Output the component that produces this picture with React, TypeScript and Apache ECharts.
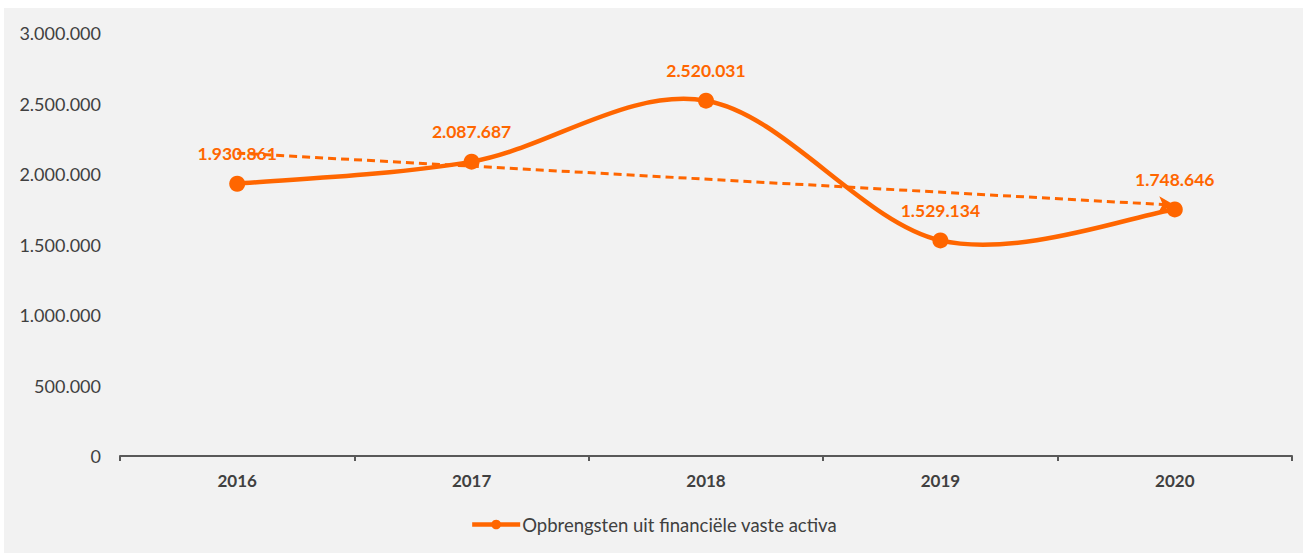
import React, { useEffect, useRef } from "react";
import * as echarts from "echarts";

const categories = ["2016", "2017", "2018", "2019", "2020"];
const values = [1930861, 2087687, 2520031, 1529134, 1748646];
const seriesName = "Opbrengsten uit financiële vaste activa";
const yMin = 0;
const yMax = 3000000;
const yInterval = 500000;

const ORANGE = "#ff6600";
const TEXT = "#404040";
const FONT = "Lato, 'Open Sans', sans-serif";

function fmt(v: number): string {
  return String(Math.round(v)).replace(/\B(?=(\d{3})+(?!\d))/g, ".");
}

function trend(vals: number[]): [number, number] {
  const n = vals.length;
  const mx = (n - 1) / 2;
  const my = vals.reduce((a, b) => a + b, 0) / n;
  let num = 0;
  let den = 0;
  vals.forEach((v, i) => {
    num += (i - mx) * (v - my);
    den += (i - mx) * (i - mx);
  });
  const slope = num / den;
  return [my - slope * mx, my + slope * (n - 1 - mx)];
}

export default function App() {
  const ref = useRef<HTMLDivElement>(null);
  useEffect(() => {
    if (!ref.current) return;
    const chart = echarts.init(ref.current, null, { renderer: "svg" });
    const [t0, t1] = trend(values);
    const n = values.length;
    chart.setOption({
      animation: false,
      backgroundColor: "#f2f2f2",
      textStyle: { fontFamily: FONT },
      grid: { left: 116, right: 11, top: 25, bottom: 97 },
      legend: {
        bottom: 14,
        left: "center",
        data: [seriesName],
        itemWidth: 48,
        itemHeight: 12,
        itemGap: 0,
        lineStyle: { color: ORANGE, width: 4.5, opacity: 1 },
        textStyle: { color: TEXT, fontSize: 18.5, fontFamily: FONT, padding: [0, 0, 0, -3] },
      },
      xAxis: {
        type: "category",
        data: categories,
        boundaryGap: true,
        axisLine: { show: true, lineStyle: { color: "#595959", width: 2 } },
        axisTick: { show: true, alignWithLabel: false, length: 5, lineStyle: { color: "#595959", width: 2 } },
        axisLabel: { color: TEXT, fontSize: 17, fontWeight: "bold", margin: 16, fontFamily: FONT },
        splitLine: { show: false },
      },
      yAxis: {
        type: "value",
        min: yMin,
        max: yMax,
        interval: yInterval,
        axisLine: { show: false },
        axisTick: { show: false },
        splitLine: { show: false },
        axisLabel: {
          color: TEXT,
          fontSize: 18,
          margin: 19,
          fontFamily: FONT,
          formatter: (v: number) => fmt(v),
        },
      },
      series: [
        {
          name: "curve",
          type: "custom",
          data: values.map((v, i) => [i, v]),
          silent: true,
          z: 2,
          renderItem: (params: any, api: any) => {
            const i = params.dataIndex;
            if (i >= n - 1) return { type: "group", children: [] };
            const p = (k: number) => {
              const kk = Math.max(0, Math.min(n - 1, k));
              return api.coord([kk, values[kk]]);
            };
            const p0 = p(i - 1);
            const p1 = p(i);
            const p2 = p(i + 1);
            const p3 = p(i + 2);
            const c1 = [p1[0] + (p2[0] - p0[0]) / 6, p1[1] + (p2[1] - p0[1]) / 6];
            const c2 = [p2[0] - (p3[0] - p1[0]) / 6, p2[1] - (p3[1] - p1[1]) / 6];
            return {
              type: "bezierCurve",
              shape: {
                x1: p1[0],
                y1: p1[1],
                x2: p2[0],
                y2: p2[1],
                cpx1: c1[0],
                cpy1: c1[1],
                cpx2: c2[0],
                cpy2: c2[1],
              },
              style: { stroke: ORANGE, lineWidth: 4.5, fill: "none", lineCap: "round" },
            };
          },
          markLine: {
            silent: true,
            symbol: ["none", "arrow"],
            symbolSize: [12, 16],
            label: { show: false },
            lineStyle: { color: ORANGE, type: [8, 5], width: 3 },
            data: [[{ coord: [0, t0] }, { coord: [4, t1] }]],
          },
        },
        {
          name: seriesName,
          type: "line",
          data: values,
          symbol: "circle",
          symbolSize: 16,
          itemStyle: { color: ORANGE },
          lineStyle: { color: ORANGE, width: 4.5, opacity: 0 },
          label: {
            show: true,
            position: "top",
            distance: 13,
            color: ORANGE,
            fontWeight: "bold",
            fontSize: 17.5,
            fontFamily: FONT,
            formatter: (p: any) => fmt(p.value),
          },
          z: 3,
        },
      ],
    });
    return () => chart.dispose();
  }, []);
  return (
    <div
      ref={ref}
      style={{ position: "absolute", left: 4, top: 8, width: 1299, height: 545 }}
    />
  );
}
